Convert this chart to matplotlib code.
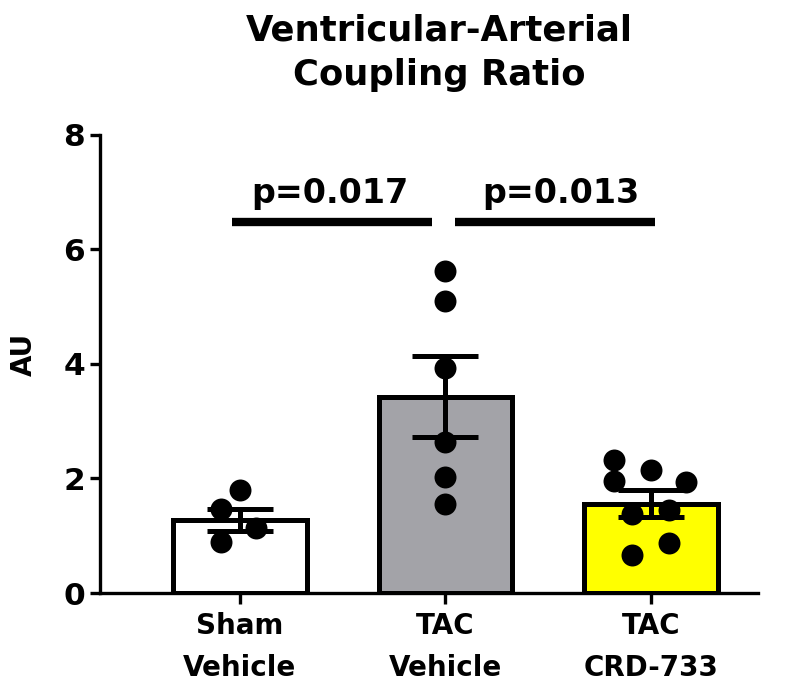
import numpy as np
import matplotlib
matplotlib.use("Agg")
import matplotlib.pyplot as plt

plt.rcParams['font.family'] = ['DejaVu Sans']
plt.rcParams['font.weight'] = 'bold'

# groups and summary values (mean, SEM)
groups = ["Sham\nVehicle", "TAC\nVehicle", "TAC\nCRD-733"]
means = [1.27, 3.43, 1.56]
sems = [0.19, 0.70, 0.23]
colors = ["white", "#a3a3a8", "#ffff00"]

# individual points per group: (x offset, value)
sham_x = [0.0, -0.09, -0.09, 0.08]
sham_y = [1.80, 1.47, 0.89, 1.14]
tac_x = [0.0, 0.0, 0.0, 0.0, 0.0, 0.0]
tac_y = [5.63, 5.09, 3.92, 2.63, 2.02, 1.55]
crd_x = [-0.18, -0.18, 0.0, 0.17, -0.09, 0.09, -0.09, 0.09]
crd_y = [2.33, 1.95, 2.14, 1.94, 1.38, 1.45, 0.66, 0.87]

# significance lines: x start, x end, label
sig_start = [-0.04, 1.045]
sig_end = [0.935, 2.02]
sig_text_x = [0.44, 1.56]
sig_labels = ["p=0.017", "p=0.013"]
sig_y = 6.48


def main():
    fig = plt.figure(figsize=(7.95, 6.84), dpi=100)
    ax = fig.add_axes([0.126, 0.133, 0.827, 0.670])

    x = np.arange(len(groups))
    ax.bar(x, means, width=0.65, color=colors, edgecolor="black",
           linewidth=3.6, zorder=2)

    pts_x = [sham_x, tac_x, crd_x]
    pts_y = [sham_y, tac_y, crd_y]
    for i in range(len(groups)):
        ax.scatter(i + np.array(pts_x[i]), pts_y[i], s=250, color="black",
                   zorder=3, clip_on=False, linewidths=0)

    ax.errorbar(x, means, yerr=sems, fmt="none", ecolor="black",
                elinewidth=3.6, capsize=24, capthick=3.6, zorder=4)

    for x0, x1, tx, label in zip(sig_start, sig_end, sig_text_x, sig_labels):
        ax.plot([x0, x1], [sig_y, sig_y], color="black", linewidth=6,
                solid_capstyle="butt", clip_on=False)
        ax.text(tx, 6.8, label, ha="center", va="baseline",
                fontsize=24, fontweight="bold")

    ax.set_xlim(-0.68, 2.52)
    ax.set_ylim(0, 8)
    ax.set_yticks([0, 2, 4, 6, 8])
    ax.set_xticks(x)
    ax.set_xticklabels(groups, fontsize=20, fontweight="bold", linespacing=1.62)
    ax.tick_params(axis="y", labelsize=22.5, width=2.4, length=7, pad=4)
    ax.tick_params(axis="x", width=2.4, length=8, pad=6)
    for lab in ax.get_yticklabels():
        lab.set_fontweight("bold")
    ax.spines["top"].set_visible(False)
    ax.spines["right"].set_visible(False)
    ax.spines["left"].set_linewidth(2.4)
    ax.spines["bottom"].set_linewidth(2.4)
    ax.set_ylabel("AU", fontsize=20, fontweight="bold")
    ax.yaxis.set_label_coords(-0.095, 0.52)

    fig.text(0.553, 1 - 85 / 684, "Ventricular-Arterial\nCoupling Ratio",
             ha="center", va="baseline", fontsize=25.5, fontweight="bold",
             linespacing=1.4)

    fig.savefig("out.png", dpi=100)


if __name__ == '__main__':
    main()
